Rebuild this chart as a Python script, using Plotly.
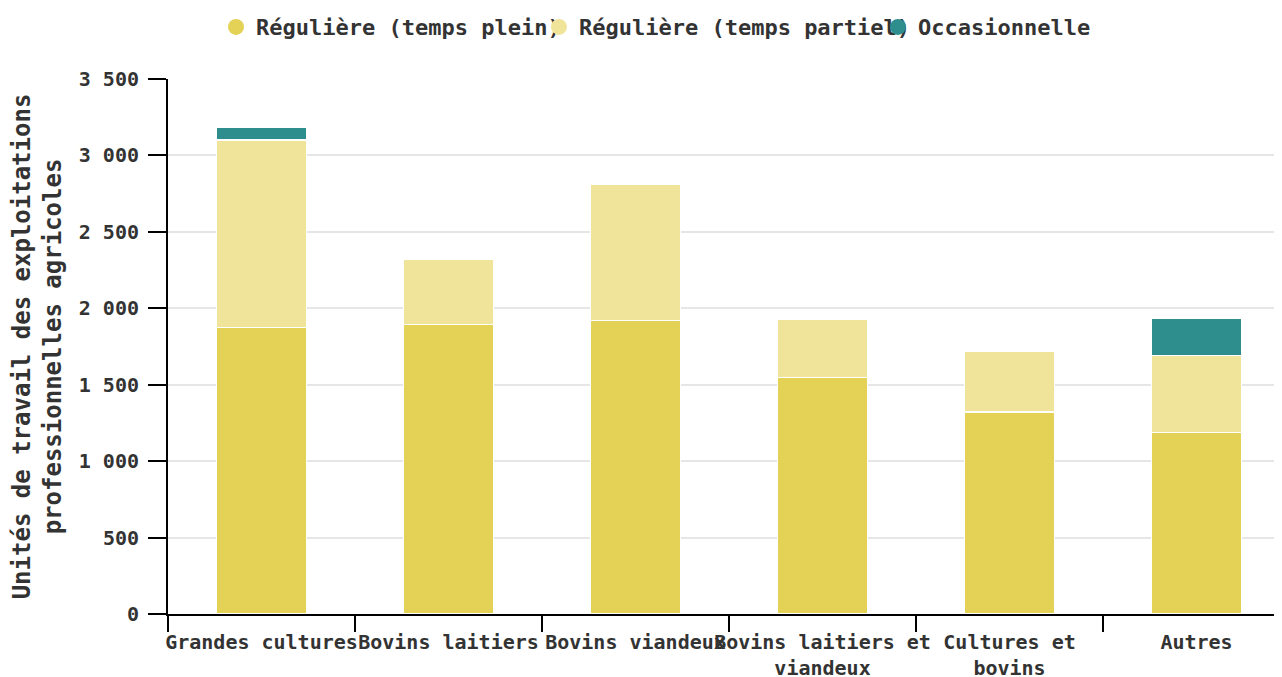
import plotly.graph_objects as go

categories = ["Grandes cultures", "Bovins laitiers", "Bovins viandeux",
              "Bovins laitiers et<br>viandeux", "Cultures et<br>bovins", "Autres"]
temps_plein = [1873, 1895, 1921, 1548, 1321, 1189]
temps_partiel = [1227, 427, 892, 380, 395, 503]
occasionnelle = [85, 0, 0, 0, 0, 246]

series = [
    ("Régulière (temps plein)", temps_plein, "#E3D256"),
    ("Régulière (temps partiel)", temps_partiel, "#EFE499"),
    ("Occasionnelle", occasionnelle, "#2E8E8E"),
]
legend_ids = ["legend", "legend2", "legend3"]
legend_x = [0.0431, 0.3330, 0.6373]

font = dict(family="DejaVu Sans Mono", size=20, color="#333", weight="bold")

fig = go.Figure()
for (name, vals, col), lid in zip(series, legend_ids):
    fig.add_trace(go.Bar(x=categories, y=vals, name=name, marker_color=col,
                         marker_line=dict(color="white", width=1.5),
                         legendgroup=name, showlegend=False, width=0.48))
    # legend entry with a round symbol, one legend box per entry so they can overlap
    fig.add_trace(go.Scatter(x=[None], y=[None], mode="markers", name=name,
                             marker=dict(color=col, size=20, symbol="circle"),
                             legendgroup=name, showlegend=True, legend=lid))

legend_common = dict(orientation="h", xanchor="left", y=1.097, yanchor="middle",
                     font=dict(size=22), itemclick=False, bgcolor="rgba(0,0,0,0)")
fig.update_layout(
    barmode="stack",
    width=1274, height=669,
    margin=dict(l=160, r=0, t=71, b=63, autoexpand=False),
    plot_bgcolor="white", paper_bgcolor="white",
    font=font,
    separators=", ",
    legend=dict(x=legend_x[0], **legend_common),
    legend2=dict(x=legend_x[1], **legend_common),
    legend3=dict(x=legend_x[2], **legend_common),
    xaxis=dict(range=[-0.5, 5.457], showline=True, linecolor="black", linewidth=2,
               ticks="outside", tickson="boundaries", ticklen=16, tickwidth=2,
               tickcolor="black", showgrid=False, tickangle=0,
               ticklabelstandoff=9),
    yaxis=dict(range=[0, 3500], dtick=500, tickformat=",d", showline=True,
               linecolor="black", linewidth=2, ticks="outside", ticklen=18,
               tickwidth=2, tickcolor="black", gridcolor="#e6e6e6", gridwidth=1.5,
               zeroline=False, ticklabelstandoff=5,
               title=dict(text="Unités de travail des exploitations<br>professionnelles agricoles",
                          standoff=20)),
)

fig.write_html("out.html")
